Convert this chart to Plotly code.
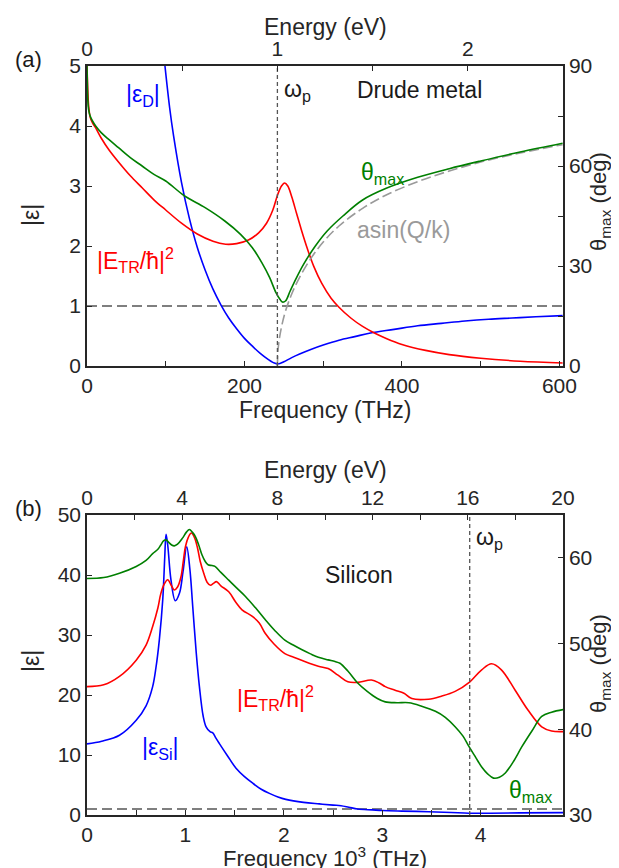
import plotly.graph_objects as go

# ---------------- Panel (a): Drude metal ----------------
freq_epsD = [99, 105, 110, 120, 130, 140, 150, 160, 170, 180, 190, 200, 210, 220, 230, 236, 240, 242,
             245, 250, 260, 270, 285, 300, 320, 340, 360, 390, 420, 450, 480, 510, 540, 570, 604]
eps_D = [5.0, 4.30, 3.83, 3.06, 2.46, 1.98, 1.60, 1.28, 1.02, 0.80, 0.62, 0.46, 0.33, 0.21, 0.11, 0.06, 0.04, 0.035,
         0.04, 0.07, 0.14, 0.20, 0.28, 0.35, 0.43, 0.49, 0.55, 0.61, 0.67, 0.71, 0.75, 0.78, 0.80, 0.82, 0.84]

freq_ETR_a = [0, 1, 2, 4, 7, 11, 18, 28, 40, 55, 70, 85, 100, 120, 140, 160, 176, 190, 205, 218, 228, 236,
              242, 247, 251, 255, 260, 266, 272, 280, 288, 298, 310, 320, 335, 350, 365, 380, 400, 430, 460,
              500, 550, 604]
ETR_a = [5.0, 4.6, 4.35, 4.15, 4.05, 3.97, 3.8, 3.6, 3.4, 3.17, 2.97, 2.77, 2.6, 2.38, 2.2, 2.08, 2.03, 2.04,
         2.1, 2.22, 2.38, 2.6, 2.85, 3.0, 3.05, 3.0, 2.82, 2.55, 2.28, 1.95, 1.66, 1.38, 1.13, 0.98, 0.8, 0.66,
         0.55, 0.46, 0.36, 0.26, 0.19, 0.13, 0.08, 0.05]

freq_theta_a = [0, 0.5, 1, 2, 4, 7, 11, 18, 28, 40, 55, 70, 85, 100, 124, 150, 175, 195, 210, 222, 232, 240,
                245, 248, 252, 258, 265, 275, 290, 305, 325, 350, 380, 420, 460, 500, 550, 604]
theta_a = [90, 84, 80, 77, 75, 73.5, 72, 70, 67.9, 65.5, 62.5, 60, 57.5, 55.5, 51, 47.5, 43.5, 39.5, 35.5, 31,
           26.5, 22, 20, 19.2, 19.5, 22.5, 26, 30.5, 36, 40.5, 45, 49.8, 53.3, 56.6, 59.2, 61.5, 64.2, 66.8]

freq_asin_a = [241.8, 242.5, 244, 247, 252, 260, 270, 285, 300, 320, 350, 380, 420, 460, 500, 550, 604]
asin_a = [0, 4.4, 7.7, 11.7, 16.4, 21.6, 26.6, 32.5, 37.2, 42.0, 47.3, 51.3, 55.3, 58.5, 61.2, 63.9, 66.4]

omega_p_a_eV = 1.0

# ---------------- Panel (b): Silicon ----------------
F_epsSi = [0, 0.15, 0.33, 0.5, 0.6, 0.667, 0.70, 0.735, 0.77, 0.79, 0.803, 0.82, 0.853, 0.897, 0.94, 0.975,
           1.013, 1.045, 1.074, 1.11, 1.142, 1.18, 1.21, 1.25, 1.278, 1.31, 1.345, 1.43, 1.514, 1.6, 1.684,
           1.77, 1.853, 1.94, 2.02, 2.2, 2.36, 2.5, 2.58, 2.66, 2.75, 2.9, 3.0, 3.2, 3.47, 3.7, 3.88, 4.1,
           4.4, 4.836]
eps_Si = [11.85, 12.3, 13.3, 15.8, 18.2, 21.4, 24.5, 29.2, 36.0, 43.0, 46.8, 45.0, 39.2, 35.7, 37.0, 40.5,
          44.7, 41.0, 34.8, 27.0, 21.4, 16.5, 14.7, 13.9, 13.7, 12.8, 11.9, 9.8, 7.8, 6.4, 5.3, 4.3, 3.6,
          3.0, 2.6, 2.1, 1.85, 1.65, 1.55, 1.3, 1.0, 0.85, 0.75, 0.65, 0.55, 0.42, 0.3, 0.3, 0.35, 0.4]

F_ETR_b = [0, 0.17, 0.33, 0.5, 0.6, 0.667, 0.72, 0.75, 0.785, 0.82, 0.855, 0.887, 0.92, 0.955, 0.98, 1.0,
           1.03, 1.06, 1.09, 1.12, 1.15, 1.186, 1.22, 1.254, 1.285, 1.315, 1.36, 1.44, 1.51, 1.575, 1.68,
           1.75, 1.81, 1.9, 2.01, 2.1, 2.18, 2.35, 2.45, 2.55, 2.65, 2.75, 2.89, 2.97, 3.03, 3.13, 3.22,
           3.30, 3.47, 3.6, 3.74, 3.89, 4.01, 4.11, 4.21, 4.35, 4.48, 4.62, 4.72, 4.836]
ETR_b = [21.4, 21.7, 23.1, 25.8, 28.3, 31.4, 34.5, 36.9, 38.5, 39.2, 38.3, 37.5, 38.0, 39.7, 42.5, 44.7,
         46.3, 47.0, 46.3, 44.7, 42.3, 40.3, 38.8, 38.3, 38.6, 38.9, 38.2, 37.2, 35.5, 34.2, 33.1, 32.0,
         30.3, 28.5, 26.9, 26.3, 25.8, 24.8, 24.4, 23.3, 22.2, 22.1, 22.5, 22.0, 21.4, 20.8, 20.3, 19.4,
         19.3, 19.8, 20.6, 22.2, 24.2, 25.2, 24.2, 20.8, 17.5, 14.7, 14.0, 13.9]

F_theta_b = [0, 0.17, 0.33, 0.5, 0.6, 0.667, 0.72, 0.75, 0.78, 0.803, 0.83, 0.86, 0.887, 0.92, 0.97, 1.01,
             1.04, 1.07, 1.1, 1.135, 1.17, 1.2, 1.23, 1.27, 1.3, 1.36, 1.44, 1.52, 1.61, 1.71, 1.81, 1.91,
             2.01, 2.1, 2.18, 2.27, 2.35, 2.45, 2.52, 2.57, 2.65, 2.75, 2.85, 2.95, 3.03, 3.15, 3.27, 3.4,
             3.54, 3.64, 3.74, 3.82, 3.88, 3.95, 4.01, 4.07, 4.13, 4.19, 4.25, 4.33, 4.42, 4.52, 4.62, 4.72,
             4.836]
theta_b = [57.6, 57.7, 58.2, 59.0, 59.7, 60.5, 61.0, 61.5, 62.0, 62.1, 61.8, 61.5, 61.4, 61.6, 62.3, 63.0,
           63.3, 63.0, 62.5, 61.5, 60.3, 59.6, 59.2, 59.1, 59.0, 58.3, 57.4, 56.5, 55.5, 54.2, 52.8, 51.5,
           50.4, 49.8, 49.3, 48.8, 48.4, 48.1, 47.9, 47.7, 46.8, 45.4, 44.4, 43.6, 43.2, 43.1, 43.1, 42.7,
           42.1, 41.4, 40.3, 39.2, 38.0, 36.7, 35.6, 34.8, 34.3, 34.4, 34.9, 36.2, 38.0, 39.8, 41.5, 42.0,
           42.3]

omega_p_b_eV = 16.08

# ---------------- Layout helpers ----------------
W, H = 619, 868
ML, MR, MT, MB = 79, 64, 58, 61
PW, PH = W - ML - MR, H - MT - MB


def px(x):
    return (x - ML) / PW


def py(y):
    return (H - MB - y) / PH


FONT = "Liberation Sans, Arial, sans-serif"
AX = "#262626"
BLUE, RED, GREEN, GREY = "#0000FF", "#FF0000", "#007F00", "#9A9A9A"
TICK = 21
TTL = 23
LW = 1.6

fig = go.Figure()

# Panel (a)
fig.add_trace(go.Scatter(x=[0, 604.5], y=[1, 1], xaxis="x", yaxis="y", mode="lines",
                         line=dict(color="#555555", width=1.3, dash="10px,5px"), showlegend=False, hoverinfo="skip"))
fig.add_trace(go.Scatter(x=[omega_p_a_eV, omega_p_a_eV], y=[0, 5], xaxis="x2", yaxis="y", mode="lines",
                         line=dict(color="#555555", width=1.3, dash="4px,3px"), showlegend=False, hoverinfo="skip"))
fig.add_trace(go.Scatter(x=freq_asin_a, y=asin_a, xaxis="x", yaxis="y2", mode="lines",
                         line=dict(color=GREY, width=LW, dash="10px,4px"), line_shape="spline", showlegend=False))
fig.add_trace(go.Scatter(x=freq_epsD, y=eps_D, xaxis="x", yaxis="y", mode="lines",
                         line=dict(color=BLUE, width=LW), line_shape="spline", showlegend=False))
fig.add_trace(go.Scatter(x=freq_ETR_a, y=ETR_a, xaxis="x", yaxis="y", mode="lines",
                         line=dict(color=RED, width=LW), line_shape="spline", showlegend=False))
fig.add_trace(go.Scatter(x=freq_theta_a, y=theta_a, xaxis="x", yaxis="y2", mode="lines",
                         line=dict(color=GREEN, width=LW), line_shape="spline", showlegend=False))

# Panel (b)
fig.add_trace(go.Scatter(x=[0, 4.836], y=[1, 1], xaxis="x3", yaxis="y3", mode="lines",
                         line=dict(color="#555555", width=1.3, dash="10px,5px"), showlegend=False, hoverinfo="skip"))
fig.add_trace(go.Scatter(x=[omega_p_b_eV, omega_p_b_eV], y=[0, 50], xaxis="x4", yaxis="y3", mode="lines",
                         line=dict(color="#555555", width=1.3, dash="4px,3px"), showlegend=False, hoverinfo="skip"))
fig.add_trace(go.Scatter(x=F_epsSi, y=eps_Si, xaxis="x3", yaxis="y3", mode="lines",
                         line=dict(color=BLUE, width=LW), line_shape="spline", showlegend=False))
fig.add_trace(go.Scatter(x=F_ETR_b, y=ETR_b, xaxis="x3", yaxis="y3", mode="lines",
                         line=dict(color=RED, width=LW), line_shape="spline", showlegend=False))
fig.add_trace(go.Scatter(x=F_theta_b, y=theta_b, xaxis="x3", yaxis="y4", mode="lines",
                         line=dict(color=GREEN, width=LW), line_shape="spline", showlegend=False))

common = dict(showline=True, linecolor=AX, linewidth=1.5, ticks="inside", ticklen=5, tickwidth=1.3,
              tickcolor=AX, showgrid=False, zeroline=False, tickfont=dict(family=FONT, size=TICK, color=AX),
              fixedrange=True)


def minor(dt):
    return dict(dtick=dt, ticks="inside", ticklen=5, tickwidth=1.3, tickcolor=AX, showgrid=False)


dom_a = [py(358), 1.0]
dom_b = [0.0, py(507)]

fig.update_layout(
    width=W, height=H, margin=dict(l=ML, r=MR, t=MT, b=MB),
    paper_bgcolor="white", plot_bgcolor="white", showlegend=False,
    xaxis=dict(common, domain=[0, 1], anchor="y", range=[0, 604.5], tick0=0, dtick=200, minor=minor(100)),
    xaxis2=dict(common, overlaying="x", anchor="y", side="top", range=[0, 2.5], tick0=0, dtick=1,
                minor=minor(0.5)),
    yaxis=dict(common, domain=dom_a, anchor="x", range=[0, 5], tick0=0, dtick=1),
    yaxis2=dict(common, overlaying="y", anchor="x", side="right", range=[0, 90], tick0=0, dtick=30,
                minor=minor(15)),
    xaxis3=dict(common, domain=[0, 1], anchor="y3", range=[0, 4.836], tick0=0, dtick=1, minor=minor(0.5)),
    xaxis4=dict(common, overlaying="x3", anchor="y3", side="top", range=[0, 20], tick0=0, dtick=4,
                minor=minor(2)),
    yaxis3=dict(common, domain=dom_b, anchor="x3", range=[0, 50], tick0=0, dtick=10),
    yaxis4=dict(common, overlaying="y3", anchor="x3", side="right", range=[30, 65], tick0=30, dtick=10),
)


def note(text, x, y, color="#1a1a1a", size=23, xanchor="left", angle=0):
    fig.add_annotation(text=text, x=px(x), y=py(y), xref="paper", yref="paper", showarrow=False,
                       xanchor=xanchor, yanchor="middle", textangle=angle,
                       font=dict(family=FONT, size=size, color=color))


# axis titles
note("Energy (eV)", 317, 19, color=AX, size=TTL, xanchor="center")
note("Frequency (THz)", 317, 402, color=AX, size=TTL, xanchor="center")
note("|ε|", 23, 207, color=AX, size=TTL, xanchor="center", angle=-90)
note("θ<sub>max</sub> (deg)", 608, 194, color=AX, size=22, xanchor="right", angle=-90)

note("Energy (eV)", 317, 462, color=AX, size=TTL, xanchor="center")
note("Frequency 10<sup>3</sup> (THz)", 317, 849, color=AX, size=22, xanchor="center")
note("|ε|", 23, 653, color=AX, size=TTL, xanchor="center", angle=-90)
note("θ<sub>max</sub> (deg)", 608, 656, color=AX, size=22, xanchor="right", angle=-90)

# in-plot labels
note("(a)", 20, 52, xanchor="center", size=22)
note("|ε<sub>D</sub>|", 116, 87, color=BLUE)
note("ω<sub>p</sub>", 274, 82)
note("Drude metal", 347, 82)
note("θ<sub>max</sub>", 351, 165, color=GREEN)
note("asin(Q/k)", 347, 222, color=GREY)
note("|E<sub>TR</sub>/ħ|<sup>2</sup>", 87, 252, color=RED)

note("(b)", 20, 500, xanchor="center", size=22)
note("ω<sub>p</sub>", 466, 530)
note("Silicon", 315, 567)
note("|E<sub>TR</sub>/ħ|<sup>2</sup>", 227, 690, color=RED)
note("|ε<sub>Si</sub>|", 132, 740, color=BLUE)
note("θ<sub>max</sub>", 499, 783, color=GREEN)

fig.write_html("out.html")
